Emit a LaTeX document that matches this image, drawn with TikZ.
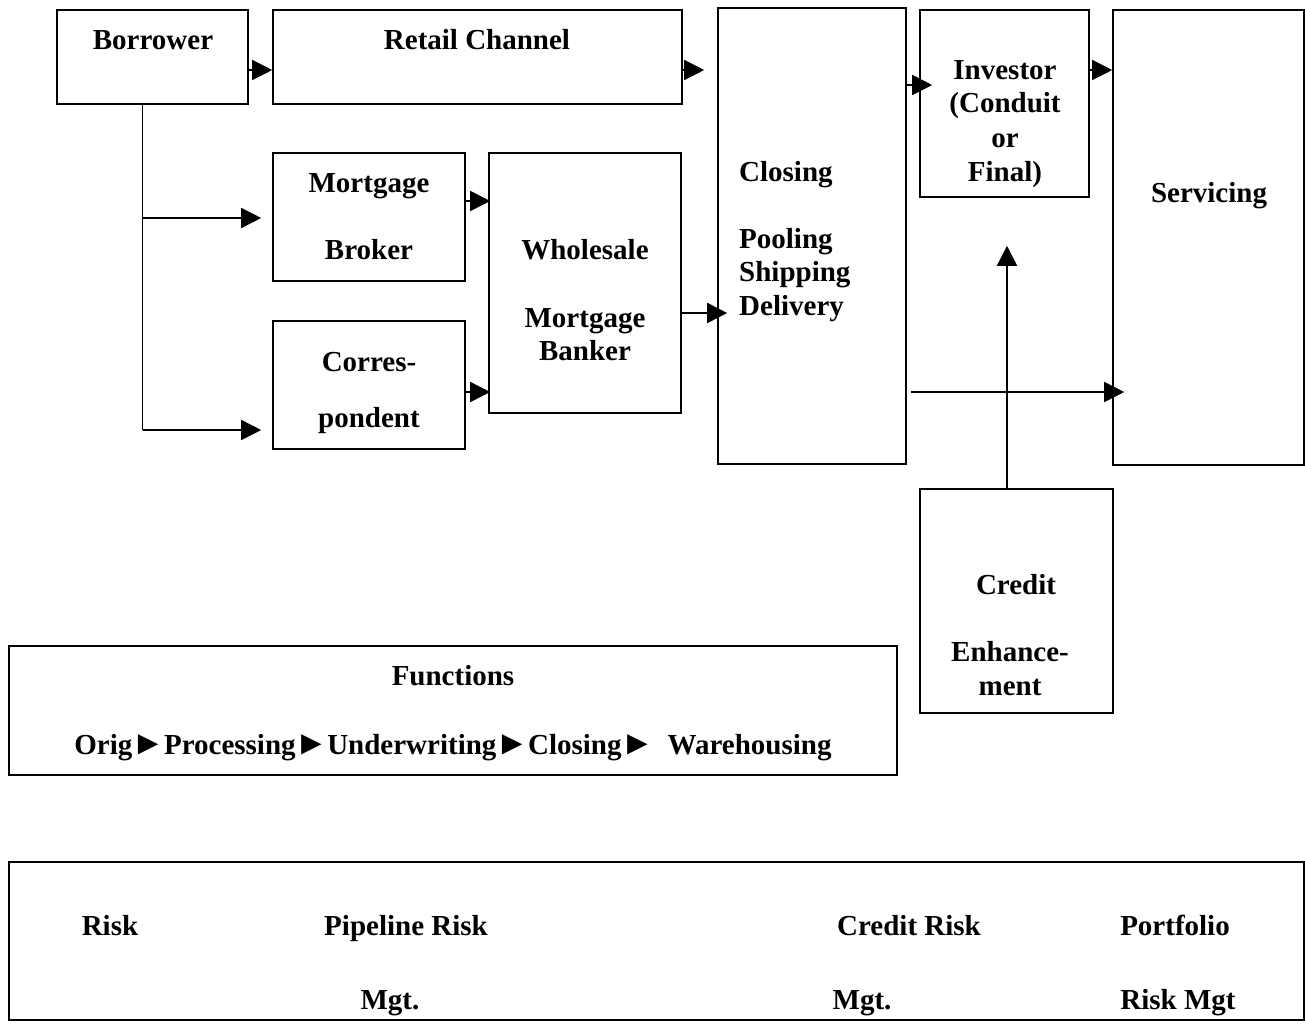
\documentclass[tikz,border=0pt]{standalone}
\usepackage{fontspec}
\setmainfont{Liberation Serif}
\usetikzlibrary{arrows.meta,fit,calc}
\newcommand{\farr}{\kern-1pt{\fontsize{34}{34}\selectfont►}\kern-1pt}
\begin{document}
\begin{tikzpicture}[x=1pt,y=-1pt,
 box/.style={draw,line width=1.6pt,inner sep=0pt},
 lbl/.style={font=\fontsize{29}{34}\selectfont\bfseries,inner sep=0pt,anchor=base},
 arr/.style={line width=1.6pt,-{Triangle[length=20pt,width=20pt]}},
 ln/.style={line width=1.6pt}]
\useasboundingbox[fill=white] (0,0) rectangle (1305,1028);
% boxes
\node[box,fit={(57,10)(248,104)}] (borrower) {};
\node[box,fit={(273,10)(682,104)}] (retail) {};
\node[box,fit={(273,153)(465,281)}] (broker) {};
\node[box,fit={(273,321)(465,449)}] (corres) {};
\node[box,fit={(489,153)(681,413)}] (wholesale) {};
\node[box,fit={(718,8)(906,464)}] (closing) {};
\node[box,fit={(920,10)(1089,197)}] (investor) {};
\node[box,fit={(1113,10)(1304,465)}] (servicing) {};
\node[box,fit={(920,489)(1113,713)}] (credit) {};
\node[box,fit={(9,646)(897,775)}] (functions) {};
\node[box,fit={(9,862)(1304,1020)}] (risk) {};
% labels
\node[lbl] (tBorrower) at (153,49) {Borrower};
\node[lbl] (tRetail) at (477,49) {Retail Channel};
\node[lbl] (tBroker1) at (369,192) {Mortgage};
\node[lbl] (tBroker2) at (369,259) {Broker};
\node[lbl] (tCorr1) at (369,371) {Corres-};
\node[lbl] (tCorr2) at (369,427) {pondent};
\node[lbl] (tWh1) at (585,259) {Wholesale};
\node[lbl] (tWh2) at (585,327) {Mortgage};
\node[lbl] (tWh3) at (585,360) {Banker};
\node[lbl,anchor=base west] (tCl1) at (739,181) {Closing};
\node[lbl,anchor=base west] (tCl2) at (739,248) {Pooling};
\node[lbl,anchor=base west] (tCl3) at (739,281) {Shipping};
\node[lbl,anchor=base west] (tCl4) at (739,315) {Delivery};
\node[lbl] (tInv1) at (1005,79) {Investor};
\node[lbl] (tInv2) at (1005,112) {(Conduit};
\node[lbl] (tInv3) at (1005,147) {or};
\node[lbl] (tInv4) at (1005,181) {Final)};
\node[lbl] (tServ) at (1209,202) {Servicing};
\node[lbl] (tCr1) at (1016,594) {Credit};
\node[lbl] (tCr2) at (1010,661) {Enhance-};
\node[lbl] (tCr3) at (1010,695) {ment};
\node[lbl] (tFun1) at (453,685) {Functions};
\node[lbl] (tFun2) at (453,754) {Orig\farr Processing\farr Underwriting\farr Closing\farr\ \ Warehousing};
\node[lbl] (tRisk) at (110,935) {Risk};
\node[lbl] (tPipe1) at (406,935) {Pipeline Risk};
\node[lbl] (tPipe2) at (390,1009) {Mgt.};
\node[lbl] (tCred1) at (909,935) {Credit Risk};
\node[lbl] (tCred2) at (862,1009) {Mgt.};
\node[lbl] (tPort1) at (1175,935) {Portfolio};
\node[lbl] (tPort2) at (1178,1009) {Risk Mgt};
% connectors
\draw[arr] (borrower.east |- 0,70) -- (retail.west |- 0,70);
\draw[arr] (retail.east |- 0,70) -- ($(closing.west |- 0,70)+(-13,0)$);
\draw[arr] (closing.east |- 0,85) -- ($(investor.west |- 0,85)+(13,0)$);
\draw[arr] (investor.east |- 0,70) -- (servicing.west |- 0,70);
\coordinate (bTop) at ($(borrower.south)+(-10,0)$);
\coordinate (bBot) at (bTop |- 0,430);
\draw[ln] (bTop) -- (bBot);
\draw[arr] (bTop |- 0,218) -- ($(broker.west |- 0,218)+(-11,0)$);
\draw[arr] (bBot) -- ($(corres.west |- 0,430)+(-11,0)$);
\draw[arr] (broker.east |- 0,201) -- ($(wholesale.west |- 0,201)+(2,0)$);
\draw[arr] (corres.east |- 0,392) -- ($(wholesale.west |- 0,392)+(2,0)$);
\draw[arr] (wholesale.east |- 0,313) -- ($(closing.west |- 0,313)+(10,0)$);
\draw[arr] ($(closing.east |- 0,392)+(4,0)$) -- ($(servicing.west |- 0,392)+(12,0)$);
\draw[arr] ($(credit.north)+(-9.5,0)$) -- ($(credit.north |- investor.south)+(-9.5,48)$);
\end{tikzpicture}
\end{document}
